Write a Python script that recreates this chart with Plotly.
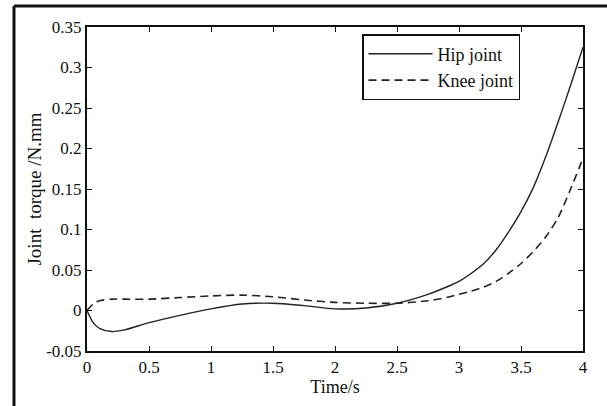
import plotly.graph_objects as go

time_s = [0, 0.05, 0.1, 0.2, 0.3, 0.5, 0.75, 1.0, 1.25, 1.5, 1.75, 2.0, 2.25, 2.5, 2.75,
          2.9, 3.0, 3.1, 3.2, 3.3, 3.4, 3.5, 3.6, 3.7, 3.8, 3.9, 4.0]
hip_joint = [0, -0.015, -0.022, -0.026, -0.024, -0.015, -0.006, 0.002, 0.008, 0.009, 0.006, 0.002, 0.003, 0.009, 0.02,
             0.029, 0.036, 0.046, 0.058, 0.075, 0.097, 0.122, 0.152, 0.19, 0.233, 0.278, 0.325]
knee_joint = [0, 0.008, 0.012, 0.014, 0.014, 0.014, 0.016, 0.018, 0.019, 0.017, 0.013, 0.010, 0.009, 0.009, 0.012,
              0.016, 0.02, 0.024, 0.029, 0.036, 0.046, 0.058, 0.073, 0.091, 0.115, 0.15, 0.188]

x_ticks = [0, 0.5, 1, 1.5, 2, 2.5, 3, 3.5, 4]
x_tick_text = ["0", "0.5", "1", "1.5", "2", "2.5", "3", "3.5", "4"]
y_ticks = [-0.05, 0, 0.05, 0.1, 0.15, 0.2, 0.25, 0.3, 0.35]
y_tick_text = ["-0.05", "0", "0.05", "0.1", "0.15", "0.2", "0.25", "0.3", "0.35"]

FONT = "Liberation Serif"

fig = go.Figure()
fig.add_trace(go.Scatter(x=time_s, y=hip_joint, mode="lines", name="Hip joint",
                         line=dict(color="#222222", width=1.4, shape="spline", smoothing=0.8)))
fig.add_trace(go.Scatter(x=time_s, y=knee_joint, mode="lines", name="Knee joint",
                         line=dict(color="#222222", width=1.6, dash="8px,5px", shape="spline", smoothing=0.8)))

W, H = 607, 406
L, R, T, B = 87, 583, 27, 351
pw, ph = R - L, B - T

def px(xp):
    return (xp - L) / pw

def py(yp):
    return (B - yp) / ph

fig.update_layout(
    width=W, height=H,
    margin=dict(l=L, r=W - R, t=T, b=H - B),
    paper_bgcolor="white", plot_bgcolor="white",
    font=dict(family=FONT, size=17, color="#111111"),
    showlegend=True,
    legend=dict(x=px(362), y=py(34), xanchor="left", yanchor="top",
                bordercolor="#111111", borderwidth=1.5, bgcolor="white",
                font=dict(family=FONT, size=18, color="#111111"),
                tracegroupgap=0, itemwidth=64),
    xaxis=dict(range=[0, 4], tickvals=x_ticks, ticktext=x_tick_text,
               showgrid=False, zeroline=False, showline=True, linecolor="#111111",
               linewidth=2, mirror="ticks", ticks="inside", ticklen=5,
               tickcolor="#111111", tickfont=dict(family=FONT, size=17, color="#111111"),
               title=dict(text="Time/s", font=dict(family=FONT, size=18), standoff=2)),
    yaxis=dict(range=[-0.05, 0.35], tickvals=y_ticks, ticktext=y_tick_text,
               showgrid=False, zeroline=False, showline=True, linecolor="#111111",
               linewidth=2, mirror="ticks", ticks="inside", ticklen=5,
               tickcolor="#111111", tickfont=dict(family=FONT, size=17, color="#111111"),
               title=dict(text="Joint  torque /N.mm", font=dict(family=FONT, size=19), standoff=0)),
)

fig.add_shape(type="line", xref="paper", yref="paper",
              x0=px(14), x1=px(14), y0=py(6), y1=py(420),
              line=dict(color="#111111", width=3))
fig.add_shape(type="line", xref="paper", yref="paper",
              x0=px(14), x1=px(620), y0=py(6), y1=py(6),
              line=dict(color="#111111", width=3))

fig.write_html("out.html", config={"displayModeBar": False},
               post_script="document.body.style.margin='0';")
